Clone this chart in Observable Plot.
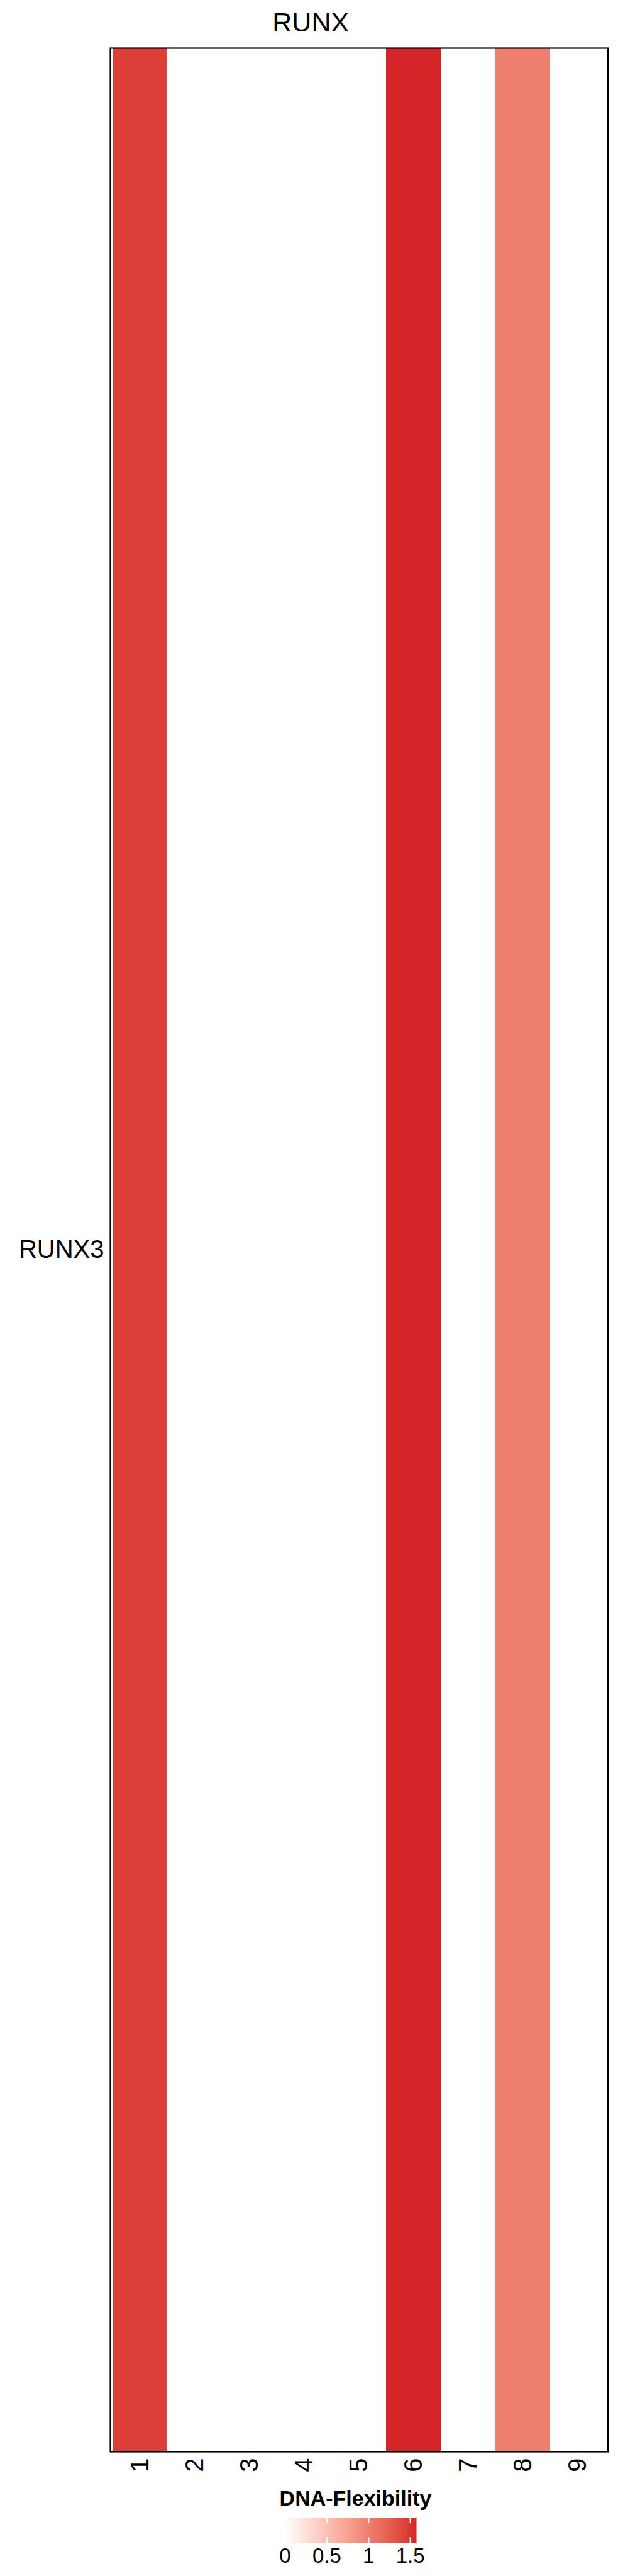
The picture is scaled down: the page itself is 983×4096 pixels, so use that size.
<!DOCTYPE html>
<html><head><meta charset="utf-8">
<script src="https://cdn.jsdelivr.net/npm/d3@7"></script>
<script src="https://cdn.jsdelivr.net/npm/@observablehq/plot@0.6"></script>
<style>
body{margin:0;background:#fff;font-family:"Liberation Sans",Arial,sans-serif}
#wrap{position:relative;width:983px;height:4096px;overflow:hidden}
#wrap > svg{position:absolute;left:0}
</style>
</head><body><div id="wrap"></div>
<script>
const chartTitle = "RUNX";
const legendTitle = "DNA-Flexibility";
const positions = ["1","2","3","4","5","6","7","8","9"];
const motifs = ["RUNX3"];
const flexibility = [1.45, 0, 0, 0, 0, 1.574, 0, 1.02, 0];
const legendTicks = [0, 0.5, 1, 1.5];

const data = positions.map((p, i) => ({position: p, motif: motifs[0], value: flexibility[i]}));
const vmax = d3.max(flexibility);
const colorOpts = {type: "linear", domain: [0, vmax], range: ["#ffffff", "#d42528"], interpolate: "lab"};
const font = "'Liberation Sans', Arial, sans-serif";

const main = Plot.plot({
  width: 983, height: 4096,
  marginTop: 76, marginBottom: 198, marginLeft: 175, marginRight: 16.6,
  style: {fontFamily: font, color: "black", background: "transparent"},
  x: {type: "band", domain: positions, padding: 0, label: null},
  y: {type: "band", domain: motifs, padding: 0, label: null},
  color: colorOpts,
  marks: [
    Plot.cell(data, {x: "position", y: "motif", fill: "value"}),
    Plot.frame({stroke: "black", strokeWidth: 2.2}),
    Plot.axisX({tickRotate: -90, fontSize: 40, tickSize: 0, tickPadding: 10, label: null}),
    Plot.axisY({fontSize: 40, tickSize: 0, tickPadding: 10, label: null}),
    Plot.text([chartTitle], {frameAnchor: "top", dx: -77, dy: -27, lineAnchor: "bottom", fontSize: 43, text: d => d, fill: "black"})
  ]
});
main.style.top = "0px";
document.getElementById("wrap").appendChild(main);

const legTop = 3950;
const legend = Plot.plot({
  width: 983, height: 146,
  marginTop: 52.5, marginBottom: 52.5, marginLeft: 453, marginRight: 321,
  style: {fontFamily: font, color: "black", background: "transparent"},
  x: {domain: [0, vmax], label: null},
  y: {domain: [0, 1], axis: null},
  color: colorOpts,
  marks: [
    Plot.raster({x1: 0, x2: vmax, y1: 0, y2: 1, fill: (x, y) => x, pixelSize: 1, width: 209, height: 4}),
    Plot.ruleX(legendTicks.filter(t => t > 0), {y1: 0, y2: 0.22, stroke: "white", strokeWidth: 2.2}),
    Plot.ruleX(legendTicks.filter(t => t > 0), {y1: 0.78, y2: 1, stroke: "white", strokeWidth: 2.2}),
    Plot.axisX({ticks: legendTicks, tickFormat: d => String(d), fontSize: 33, tickSize: 0, tickPadding: 8, label: null}),
    Plot.text([legendTitle], {frameAnchor: "top", dx: 7.5, dy: -19, lineAnchor: "bottom", fontSize: 34, fontWeight: "bold", text: d => d, fill: "black"})
  ]
});
legend.style.top = legTop + "px";
document.getElementById("wrap").appendChild(legend);
</script>
</body></html>
